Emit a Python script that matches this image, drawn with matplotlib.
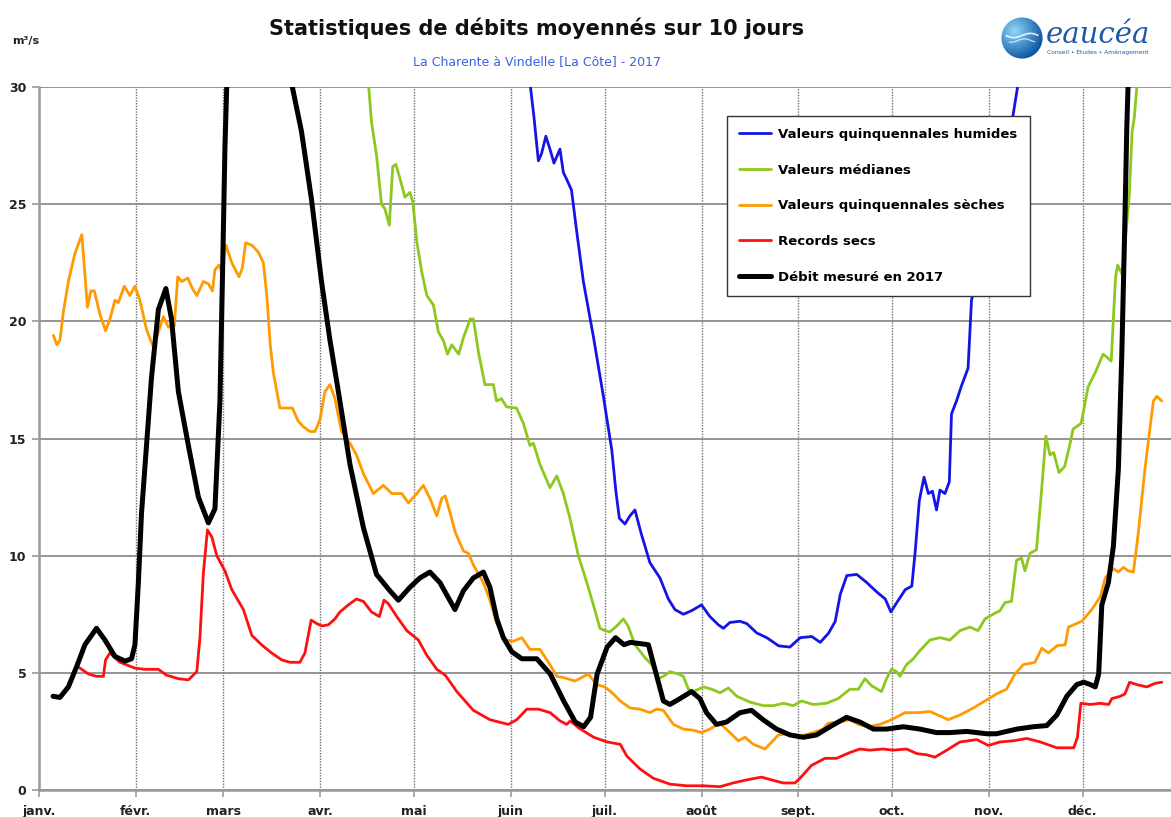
import matplotlib
matplotlib.use('Agg')
import matplotlib.pyplot as plt
import numpy as np
from matplotlib.patches import Circle

plt.rcParams['font.family'] = ['DejaVu Sans']

# ---------------- data ----------------
mois_jours = [0, 31, 59, 90, 120, 151, 181, 212, 243, 273, 304, 334]
mois_labels = ['janv.', 'févr.', 'mars', 'avr.', 'mai', 'juin', 'juil.',
               'août', 'sept.', 'oct.', 'nov.', 'déc.']
y_ticks = [0, 5, 10, 15, 20, 25, 30]

# (jour de l'année, débit m3/s)
humides = [(0, 60), (100, 55), (150, 40), (157.1, 30.2), (158.4, 28.7), (159.8, 26.85),
           (160.8, 27.15), (162.2, 27.9), (163.5, 27.35), (164.8, 26.75), (166.7, 27.35),
           (167.8, 26.35), (168.9, 26.05), (170.4, 25.6), (172.1, 23.8), (174.2, 21.7),
           (177.4, 19.35), (180.6, 16.8), (183.3, 14.5), (184.6, 12.75), (185.7, 11.6),
           (187.5, 11.35), (189.1, 11.7), (190.7, 11.95), (192.8, 10.9), (195.5, 9.7),
           (198.7, 9.05), (201.4, 8.15), (203.5, 7.7), (206.2, 7.5), (208.8, 7.65),
           (212, 7.9), (214.7, 7.4), (217.4, 7.05), (219, 6.9), (221.1, 7.15), (224.3, 7.2),
           (226.5, 7.1), (229.7, 6.7), (232.9, 6.5), (236.7, 6.15), (240.3, 6.1),
           (243.6, 6.5), (247.3, 6.55), (250, 6.3), (252.7, 6.7), (254.8, 7.2),
           (256.4, 8.35), (258.5, 9.15), (261.7, 9.2), (264.9, 8.85), (268.1, 8.45),
           (270.8, 8.15), (272.6, 7.6), (274.5, 8.0), (277.2, 8.55), (279.3, 8.7),
           (280.4, 10.2), (281.7, 12.35), (283.2, 13.35), (284.6, 12.65), (285.9, 12.75),
           (287.2, 11.95), (288.3, 12.8), (289.9, 12.65), (291.3, 13.15), (292, 16.05),
           (293.6, 16.6), (295.2, 17.25), (297.3, 18.0), (298.4, 20.9), (299.5, 21.5),
           (311.7, 28.8), (313.5, 30.3), (320, 38), (362, 60)]

medianes = [(0, 45), (60, 45), (100, 36), (105.4, 30.2), (106.4, 28.5), (108, 27.1),
            (109.6, 25.0), (110.7, 24.8), (112.1, 24.1), (113.2, 26.6), (114.2, 26.7),
            (115.5, 26.1), (117.1, 25.3), (118.7, 25.5), (119.6, 25.1), (120.9, 23.4),
            (122.5, 22.1), (124.1, 21.1), (126.2, 20.7), (127.8, 19.55), (129.5, 19.15),
            (130.7, 18.6), (132.1, 19.0), (134.3, 18.6), (135.8, 19.3), (138, 20.1),
            (139, 20.1), (140.6, 18.7), (142.7, 17.3), (145.4, 17.3), (146.4, 16.6),
            (148, 16.7), (149.6, 16.35), (152.8, 16.3), (155, 15.65), (157.1, 14.7),
            (158.2, 14.8), (160.3, 13.9), (163.5, 12.9), (165.7, 13.4), (167.8, 12.65),
            (169.9, 11.6), (172.6, 10.0), (175.3, 8.85), (177.4, 7.9), (179.5, 6.9),
            (181.1, 6.8), (182.7, 6.75), (184.9, 7.0), (187, 7.3), (188.5, 7.0),
            (190.7, 6.2), (193.9, 5.65), (196.1, 5.35), (198.2, 4.75), (199.8, 4.85),
            (201.9, 5.05), (204.6, 4.95), (206.2, 4.85), (207.8, 4.3), (209.4, 4.2),
            (212.6, 4.4), (215.3, 4.3), (217.9, 4.15), (220.6, 4.35), (223.3, 4.0),
            (227.5, 3.75), (231.8, 3.6), (235, 3.6), (238.2, 3.7), (241.4, 3.6),
            (244, 3.8), (247.7, 3.65), (252, 3.7), (255.7, 3.9), (259.5, 4.3),
            (262.2, 4.3), (264.3, 4.75), (266.4, 4.45), (269.6, 4.2), (271.2, 4.75),
            (272.8, 5.15), (274.4, 5.05), (275.5, 4.85), (277.6, 5.35), (279.8, 5.6),
            (281.9, 5.95), (285.1, 6.4), (288.3, 6.5), (291.5, 6.4), (294.7, 6.8),
            (297.9, 6.95), (300.5, 6.8), (302.7, 7.3), (305.3, 7.5), (307.5, 7.65),
            (309.1, 8.0), (311.2, 8.05), (312.8, 9.8), (314.4, 9.9), (315.5, 9.35),
            (317.1, 10.1), (319.2, 10.25), (320.8, 12.75), (322.2, 15.1), (323.5, 14.3),
            (324.7, 14.4), (326.4, 13.55), (328.2, 13.8), (329.8, 14.7), (330.9, 15.4),
            (333.5, 15.65), (335.7, 17.2), (338.3, 17.9), (340.5, 18.6), (341.5, 18.5),
            (343.1, 18.3), (344.5, 21.9), (345.2, 22.4), (346.6, 22.0), (347.7, 23.6),
            (348.9, 25.4), (349.8, 28.1), (350.5, 28.7), (351.6, 30.5), (355, 36), (362, 40)]

seches = [(4.6, 19.4), (5.7, 19.0), (6.7, 19.2), (7.8, 20.4), (9.4, 21.7), (11.5, 22.9),
          (13.7, 23.7), (15.5, 20.6), (16.6, 21.3), (17.7, 21.3), (19.5, 20.3), (21.3, 19.6),
          (22.7, 20.1), (24.3, 20.9), (25.4, 20.8), (27.3, 21.5), (29.1, 21.1), (30.7, 21.5),
          (32.3, 20.9), (34.4, 19.65), (36.6, 18.9), (38.2, 19.55), (39.8, 20.2),
          (41.4, 19.75), (43.3, 19.8), (44.4, 21.9), (45.7, 21.7), (47.6, 21.85),
          (49.1, 21.4), (50.5, 21.1), (52.6, 21.7), (54.2, 21.6), (55.5, 21.3), (56.3, 22.2),
          (57.6, 22.4), (58.5, 22.1), (59.8, 23.25), (61.7, 22.5), (64, 21.9), (65.1, 22.3),
          (66.1, 23.35), (68.1, 23.25), (70.2, 22.95), (71.8, 22.5), (72.9, 21.1),
          (74, 19.0), (75, 17.8), (77.1, 16.3), (79.2, 16.3), (81.1, 16.3), (82.9, 15.75),
          (84.6, 15.5), (86.7, 15.3), (88.3, 15.3), (89.9, 15.8), (91.5, 17.0), (93.1, 17.3),
          (94.7, 16.7), (96.8, 15.3), (99.5, 14.8), (101.6, 14.3), (103.8, 13.5),
          (107, 12.65), (110.2, 13.0), (112.9, 12.65), (116.1, 12.65), (118.2, 12.25),
          (120.9, 12.65), (123, 13.0), (125.1, 12.45), (127.3, 11.7), (128.9, 12.45),
          (130, 12.55), (131.6, 11.8), (133.2, 11.0), (135.8, 10.2), (137.4, 10.1),
          (139, 9.6), (142.2, 8.85), (144.3, 8.1), (146.5, 7.1), (149.1, 6.4),
          (151.8, 6.35), (154.5, 6.5), (157.1, 6.0), (160.3, 6.0), (163.5, 5.35),
          (165.7, 4.85), (167.8, 4.8), (171.5, 4.65), (175.8, 4.95), (178.4, 4.5),
          (181.1, 4.4), (183.8, 4.1), (186, 3.8), (189.1, 3.5), (192.3, 3.45), (195.5, 3.3),
          (197.6, 3.45), (199.8, 3.4), (203, 2.8), (206.2, 2.6), (209.4, 2.55), (212, 2.45),
          (214.7, 2.6), (217.9, 2.85), (221.1, 2.45), (223.8, 2.1), (225.9, 2.25),
          (228.6, 1.95), (232.3, 1.75), (234.5, 2.05), (236.6, 2.35), (239.8, 2.4),
          (243.5, 2.3), (247.7, 2.45), (250.9, 2.6), (252.5, 2.85), (256.3, 2.9),
          (259.5, 3.0), (262.2, 2.8), (265.3, 2.7), (269.1, 2.8), (272.8, 3.0),
          (277.1, 3.3), (281, 3.3), (285.1, 3.35), (291, 3.0), (294.7, 3.2), (299, 3.5),
          (302.7, 3.8), (306.4, 4.1), (309.6, 4.3), (312.3, 4.95), (315, 5.35),
          (318.7, 5.45), (320.9, 6.05), (323, 5.85), (325.7, 6.15), (328.4, 6.2),
          (329.4, 6.95), (333.7, 7.2), (336.9, 7.7), (339.6, 8.25), (341.2, 9.05),
          (343.8, 9.45), (345.4, 9.3), (347, 9.5), (348.6, 9.35), (350.2, 9.3),
          (351.8, 11.0), (353.9, 13.7), (355, 14.9), (356.6, 16.6), (357.7, 16.8),
          (359.3, 16.6)]

records_secs = [(12.6, 5.25), (15.8, 4.95), (18.4, 4.85), (20.6, 4.85), (21.3, 5.55),
                (22.7, 5.85), (25.9, 5.45), (30.7, 5.2), (33.9, 5.15), (38.2, 5.15),
                (40.8, 4.9), (44.6, 4.75), (47.8, 4.7), (50.5, 5.05), (51.5, 6.5),
                (52.6, 9.25), (53.9, 11.1), (55.3, 10.8), (56.9, 10.0), (59.5, 9.35),
                (61.7, 8.55), (65.4, 7.7), (68.1, 6.6), (71.2, 6.2), (74.4, 5.85),
                (77.7, 5.55), (80.3, 5.45), (83.5, 5.45), (85.1, 5.85), (87.1, 7.25),
                (88.9, 7.1), (90.5, 7.0), (92.6, 7.05), (94.7, 7.3), (96.3, 7.6), (99, 7.9),
                (101.6, 8.15), (103.8, 8.05), (106.4, 7.6), (108.9, 7.4), (110.4, 8.1),
                (111.8, 7.95), (114.5, 7.4), (117.7, 6.8), (121.4, 6.4), (124.1, 5.75),
                (127.3, 5.15), (130, 4.9), (133.7, 4.2), (139, 3.4), (144.3, 3.0),
                (150.2, 2.8), (152.9, 3.0), (156.1, 3.45), (159.8, 3.45), (163.6, 3.3),
                (166.7, 2.95), (168.9, 2.8), (170, 2.95), (172.7, 2.65), (177.5, 2.25),
                (181.8, 2.05), (186, 1.95), (188.1, 1.45), (192.3, 0.9), (196.6, 0.5),
                (201.9, 0.25), (207.2, 0.18), (212.6, 0.18), (217.9, 0.14), (222.1, 0.3),
                (226.4, 0.43), (231.2, 0.55), (233.9, 0.45), (238.1, 0.3), (241.9, 0.3),
                (243.5, 0.5), (247.2, 1.05), (251.5, 1.35), (255.2, 1.35), (259.5, 1.6),
                (262.7, 1.75), (265.9, 1.7), (270.1, 1.75), (273.3, 1.7), (277.6, 1.75),
                (281, 1.55), (284.1, 1.5), (286.7, 1.4), (290.5, 1.7), (294.7, 2.05),
                (300.1, 2.15), (303.8, 1.9), (307.5, 2.05), (311.8, 2.1), (316.1, 2.2),
                (320.4, 2.05), (325.7, 1.8), (331.1, 1.8), (332.3, 2.25), (333.4, 3.7),
                (336.4, 3.65), (339.6, 3.7), (342.3, 3.65), (343.3, 3.9), (346, 4.0),
                (347.5, 4.1), (349, 4.6), (351.2, 4.5), (354.5, 4.4), (357.1, 4.55),
                (359.3, 4.6)]

debit_2017 = [(4.5, 4.0), (6.7, 3.95), (9.4, 4.4), (12, 5.25), (14.7, 6.2), (18.4, 6.9),
              (21.1, 6.4), (24.3, 5.7), (27.5, 5.5), (29.6, 5.6), (30.7, 6.2), (31.8, 8.85),
              (32.8, 11.8), (34.4, 14.7), (36, 17.6), (38.2, 20.5), (40.6, 21.4),
              (42.4, 20.1), (44.6, 17.0), (47.8, 14.7), (51, 12.5), (54.2, 11.4),
              (56.3, 12.0), (57.9, 16.6), (58.8, 22.5), (59.5, 27.4), (60.5, 32), (63, 40),
              (70, 45), (77, 38), (80.3, 30.5), (84, 28.1), (87.2, 25.2), (90.4, 21.7),
              (93.1, 19.2), (95.8, 17.0), (99.5, 13.9), (103.8, 11.2), (108, 9.2),
              (112.3, 8.5), (115, 8.1), (118.7, 8.65), (121.9, 9.05), (125.1, 9.3),
              (128.3, 8.85), (133.1, 7.7), (135.8, 8.5), (139, 9.05), (142.2, 9.3),
              (144.3, 8.65), (146.5, 7.3), (148.6, 6.5), (151.3, 5.9), (154.5, 5.6),
              (159.3, 5.6), (163.6, 4.95), (167.9, 3.8), (171.6, 2.9), (174.3, 2.7),
              (176.5, 3.1), (178.6, 4.95), (181.8, 6.1), (184.5, 6.5), (187.2, 6.2),
              (189.3, 6.3), (195, 6.2), (197.1, 5.15), (199.8, 3.8), (201.9, 3.65),
              (205.1, 3.9), (208.8, 4.2), (211.5, 3.9), (213.6, 3.3), (216.8, 2.8),
              (220, 2.9), (224.3, 3.3), (228, 3.4), (231.7, 3.0), (236, 2.6), (240.3, 2.35),
              (244.6, 2.25), (248.8, 2.35), (253.1, 2.7), (258.4, 3.1), (262.7, 2.9),
              (267, 2.6), (271.2, 2.6), (276.6, 2.7), (281.9, 2.6), (287.2, 2.45),
              (291.5, 2.45), (296.9, 2.5), (303.3, 2.4), (306.4, 2.4), (312.9, 2.6),
              (318.2, 2.7), (322.5, 2.75), (325.7, 3.2), (328.9, 4.0), (332.1, 4.5),
              (334.3, 4.6), (336.4, 4.5), (338, 4.4), (339.1, 4.95), (340.1, 7.9),
              (342.2, 8.85), (343.8, 10.4), (345.4, 13.7), (346.5, 18.6), (347.5, 24.4),
              (348.1, 28.3), (348.6, 30.5), (351, 40), (356, 55), (362, 60)]

series = [
    ('Valeurs quinquennales humides', humides, '#1414e6', 2.0),
    ('Valeurs médianes', medianes, '#8cc81e', 2.0),
    ('Valeurs quinquennales sèches', seches, '#ff9a00', 2.0),
    ('Records secs', records_secs, '#ff1010', 2.0),
    ('Débit mesuré en 2017', debit_2017, '#000000', 3.6),
]

# ---------------- figure ----------------
W, H = 1171, 817
fig = plt.figure(figsize=(W / 100, H / 100), dpi=100)
ax = fig.add_axes([39 / W, 27 / H, 1132 / W, 703 / H])

for name, pts, color, lw in series:
    x = [p[0] for p in pts]
    y = [p[1] for p in pts]
    ax.plot(x, y, color=color, lw=lw, label=name, solid_capstyle='round',
            solid_joinstyle='round', zorder=3)

ax.set_xlim(0, 1132 / 3.125)
ax.set_ylim(0, 30)
ax.set_xticks(mois_jours)
ax.set_xticklabels(mois_labels)
ax.set_yticks(y_ticks)
ax.set_yticklabels([str(v) for v in y_ticks])

for lab in ax.get_xticklabels() + ax.get_yticklabels():
    lab.set_fontweight('bold')
    lab.set_fontsize(9)
    lab.set_color('#222222')

ax.tick_params(axis='both', direction='out', length=5, width=1.2, color='#999999')
ax.tick_params(axis='x', pad=6)
ax.tick_params(axis='y', pad=4)

ax.yaxis.grid(True, color='#8c8c8c', lw=1.3, zorder=1)
ax.xaxis.grid(True, color='#6f6f6f', lw=1.0, linestyle=(0, (1, 1)), zorder=1)
ax.set_axisbelow(True)

for s in ['top', 'right']:
    ax.spines[s].set_visible(False)
for s in ['left', 'bottom']:
    ax.spines[s].set_color('#999999')
    ax.spines[s].set_linewidth(1.8)

leg = ax.legend(loc='upper left', bbox_to_anchor=((727 - 39) / 1132, (790 - 116) / 703),
                prop={'weight': 'bold', 'size': 9.5}, frameon=True, fancybox=False,
                framealpha=1.0, facecolor='white',
                handlelength=2.4, handletextpad=0.6, labelspacing=1.72,
                borderpad=0.9, borderaxespad=0)
leg.get_frame().set_edgecolor('#333333')
leg.get_frame().set_linewidth(1.0)
leg.set_zorder(10)

# ---------------- texts ----------------
fig.text(537 / W, 1 - 28 / H, 'Statistiques de débits moyennés sur 10 jours',
         ha='center', va='center', fontsize=15, fontweight='bold', color='#111111')
fig.text(537 / W, 1 - 62 / H, 'La Charente à Vindelle [La Côte] - 2017',
         ha='center', va='center', fontsize=9, color='#3a62dc')
fig.text(12 / W, 1 - 41 / H, 'm³/s', ha='left', va='center', fontsize=8,
         fontweight='bold', color='#222222')

# ---------------- logo ----------------
cx, cy, r = 1022, 38, 21
lax = fig.add_axes([(cx - r) / W, 1 - (cy + r) / H, 2 * r / W, 2 * r / H])
lax.set_xlim(-1, 1)
lax.set_ylim(-1, 1)
lax.axis('off')
gy, gx = np.mgrid[-1:1:200j, -1:1:200j]
d = np.sqrt((gx + 0.35) ** 2 + (gy - 0.35) ** 2)
t = np.clip(d / 1.5, 0, 1)
c0 = np.array([0.55, 0.85, 0.98])
c1 = np.array([0.02, 0.30, 0.62])
img = c0[None, None, :] * (1 - t[..., None]) + c1[None, None, :] * t[..., None]
im = lax.imshow(img, extent=[-1, 1, -1, 1], origin='lower')
clip = Circle((0, 0), 0.98, transform=lax.transData, facecolor='none', edgecolor='none')
lax.add_patch(clip)
im.set_clip_path(clip)
wx = np.linspace(-0.75, 0.75, 50)
lax.plot(wx, 0.12 + 0.10 * np.sin(wx * 4.0), color='white', lw=1.2, alpha=0.85)
lax.plot(wx * 0.8, -0.12 + 0.08 * np.sin(wx * 4.0 + 1), color='white', lw=0.9, alpha=0.7)

fig.text(1046 / W, 1 - 35 / H, 'eaucéa', ha='left', va='center', fontsize=21,
         family='DejaVu Serif', style='italic', color='#1d5aa6')
fig.text(1047 / W, 1 - 52 / H, 'Conseil • Études • Aménagement', ha='left', va='center',
         fontsize=4.3, color='#1d5aa6')

fig.savefig('out.png', dpi=100)
